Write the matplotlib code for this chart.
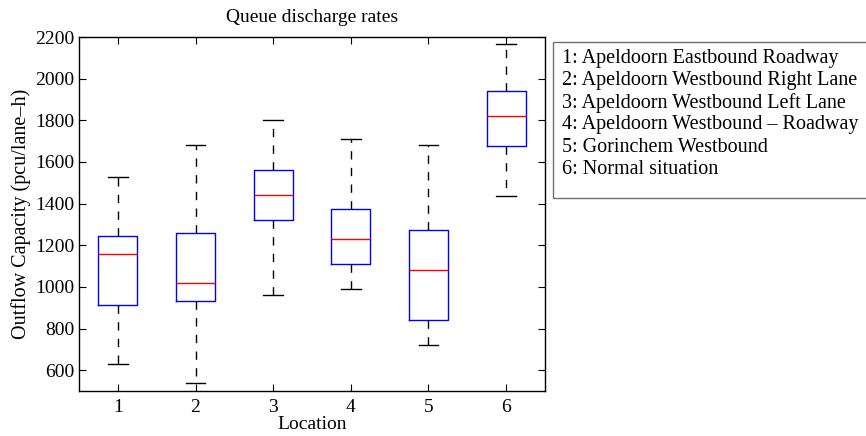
import matplotlib.pyplot as plt
from matplotlib.patches import Rectangle

plt.rcParams['font.family'] = ['Liberation Serif', 'DejaVu Serif']

# Box-plot statistics per location (pcu/lane-h)
locations = [1, 2, 3, 4, 5, 6]
whis_low = [630, 540, 960, 990, 720, 1437]
q1 = [915, 931, 1320, 1109, 840, 1676]
medians = [1157, 1021, 1441, 1229, 1079, 1820]
q3 = [1245, 1260, 1559, 1372, 1274, 1942]
whis_high = [1530, 1680, 1800, 1711, 1680, 2168]

legend_labels = [
    '1: Apeldoorn Eastbound Roadway',
    '2: Apeldoorn Westbound Right Lane',
    '3: Apeldoorn Westbound Left Lane',
    '4: Apeldoorn Westbound \u2013 Roadway',
    '5: Gorinchem Westbound',
    '6: Normal situation',
]

stats = []
for i in range(len(locations)):
    stats.append({'whislo': whis_low[i], 'q1': q1[i], 'med': medians[i],
                  'q3': q3[i], 'whishi': whis_high[i], 'fliers': []})

fig = plt.figure(figsize=(8.66, 4.36), dpi=100)
ax = fig.add_axes([79 / 866, 45 / 436, 466 / 866, 354 / 436])

ax.bxp(stats, positions=locations, widths=0.5, capwidths=0.25,
       showfliers=False,
       boxprops=dict(color='blue', linewidth=1),
       medianprops=dict(color='red', linewidth=1),
       whiskerprops=dict(color='black', linestyle=(0, (6, 6)), linewidth=1),
       capprops=dict(color='black', linewidth=1))

ax.set_xlim(0.5, 6.5)
ax.set_ylim(500, 2200)
ax.set_xticks(locations)
ax.set_yticks(range(600, 2201, 200))
ax.tick_params(direction='in', top=True, right=True, length=5, labelsize=14)
ax.tick_params(axis='x', pad=6)
for s in ax.spines.values():
    s.set_linewidth(1)
ax.set_xlabel('Location', fontsize=14, labelpad=0)
ax.set_ylabel('Outflow Capacity (pcu/lane\u2013h)', fontsize=14.5, labelpad=3)
ax.set_title('Queue discharge rates', fontsize=14, pad=11)

# legend box with the location names
fig.patches.append(Rectangle((553 / 866, 1 - 198 / 436), 0.5, 156 / 436,
                             transform=fig.transFigure, fill=False,
                             edgecolor='#707070', linewidth=1))
for i, lab in enumerate(legend_labels):
    fig.text(562 / 866, 1 - (59 + 22 * i) / 436, lab, fontsize=14.5,
             va='center', ha='left')

fig.savefig('out.png', dpi=100)
